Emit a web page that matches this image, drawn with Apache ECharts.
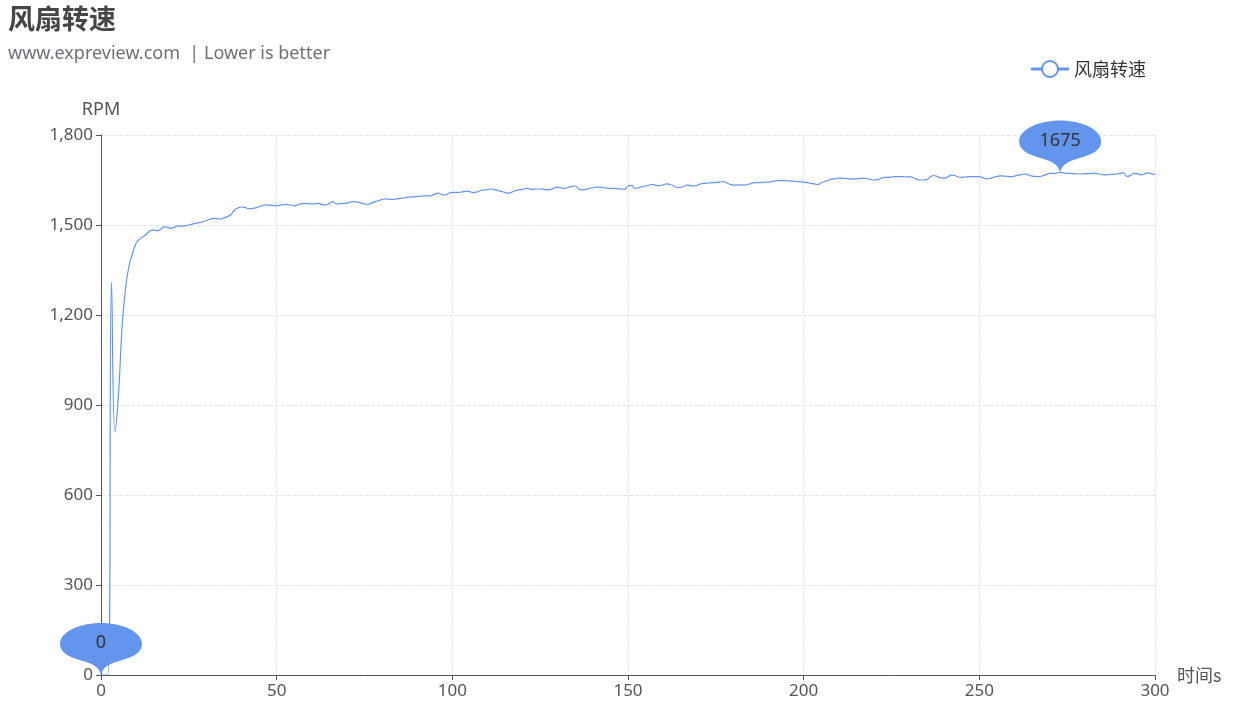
<!DOCTYPE html>
<html>
<head>
<meta charset="utf-8">
<script src="https://cdn.jsdelivr.net/npm/echarts@6/dist/echarts.min.js"></script>
<style>
html,body{margin:0;padding:0;background:#fff;}
#chart{width:1255px;height:720px;}
</style>
</head>
<body>
<div id="chart"></div>
<script>
const titleText = '风扇转速';
const subtitleText = 'www.expreview.com  | Lower is better';
const seriesName = '风扇转速';
const yAxisName = 'RPM';
const xAxisName = '时间s';
const sampleStartSec = 0;
const sampleStepSec = 1;
// fan speed (RPM), one reading per second from 0 s to 300 s
const fanRpm = [
0,0,0,1310,810,940,1160,1290,1365,1405,
1440,1453,1461,1470,1481,1484,1481,1486,1494,1492,
1489,1493,1497,1496,1498,1500,1503,1506,1508,1511,
1515,1519,1522,1521,1520,1524,1528,1535,1550,1557,
1560,1559,1554,1555,1557,1561,1565,1567,1566,1565,
1564,1566,1568,1569,1566,1564,1567,1571,1572,1571,
1570,1571,1572,1568,1567,1572,1578,1570,1571,1572,
1573,1576,1578,1576,1574,1570,1569,1573,1578,1581,
1585,1587,1586,1585,1587,1589,1590,1592,1594,1594,
1595,1596,1597,1597,1598,1603,1606,1601,1600,1606,
1609,1609,1609,1611,1613,1611,1608,1610,1615,1617,
1618,1620,1618,1615,1612,1608,1606,1610,1615,1617,
1619,1622,1620,1619,1620,1620,1619,1617,1619,1623,
1626,1624,1622,1625,1629,1630,1620,1617,1619,1622,
1624,1626,1626,1625,1623,1622,1622,1621,1620,1619,
1630,1632,1622,1624,1628,1630,1633,1635,1632,1631,
1634,1637,1635,1630,1625,1625,1630,1633,1631,1630,
1634,1638,1639,1640,1641,1642,1643,1645,1641,1636,
1633,1633,1634,1633,1635,1638,1641,1641,1642,1643,
1643,1645,1647,1648,1648,1648,1647,1646,1645,1644,
1643,1641,1639,1637,1635,1641,1645,1649,1653,1654,
1656,1656,1655,1654,1653,1654,1655,1656,1655,1652,
1650,1651,1655,1659,1659,1660,1661,1661,1661,1660,
1661,1659,1653,1650,1650,1651,1660,1665,1662,1657,
1656,1660,1666,1665,1660,1659,1660,1661,1661,1661,
1661,1658,1654,1655,1659,1662,1664,1663,1662,1661,
1663,1666,1668,1670,1667,1663,1662,1661,1664,1668,
1672,1672,1673,1675,1674,1672,1672,1671,1670,1670,
1671,1671,1672,1672,1670,1668,1667,1668,1669,1670,
1672,1674,1662,1665,1672,1671,1667,1670,1674,1671,
1668
];
const xTicks = [0, 300, 50];   // min, max, interval
const yTicks = [0, 1800, 300]; // min, max, interval

const seriesData = fanRpm.map((v, i) => [sampleStartSec + i * sampleStepSec, v]);

const mainColor = '#6495ED';
const pinPath = 'path://M50,100 C48,86 42,79 28,73 C8,65 0,55 0,40 C0,17 24,0 50,0 C76,0 100,17 100,40 C100,55 92,65 72,73 C58,79 52,86 50,100 Z';
const latin = 'Noto Sans';
const chart = echarts.init(document.getElementById('chart'), null, {renderer: 'canvas'});
chart.setOption({
  animation: false,
  color: [mainColor],
  title: {
    text: titleText,
    subtext: subtitleText,
    left: 3,
    top: 0,
    itemGap: 13,
    textStyle: {fontSize: 27, fontWeight: 'bold', color: '#464646', fontFamily: 'Noto Sans CJK SC'},
    subtextStyle: {fontSize: 18, color: '#6e7079', fontFamily: latin}
  },
  legend: {
    data: [seriesName],
    right: 104,
    top: 55,
    itemWidth: 38,
    itemHeight: 20,
    itemGap: 10,
    textStyle: {fontSize: 18, color: '#333', fontFamily: 'Noto Sans CJK SC'},
    lineStyle: {width: 3},
    itemStyle: {borderWidth: 3}
  },
  grid: {left: 101, right: 100, top: 135, bottom: 45, containLabel: false},
  xAxis: {
    type: 'value',
    min: xTicks[0], max: xTicks[1], interval: xTicks[2],
    name: xAxisName,
    nameGap: 22,
    nameTextStyle: {fontSize: 18, color: '#555', fontFamily: 'Noto Sans CJK SC'},
    axisLine: {show: true, lineStyle: {color: '#555'}},
    axisTick: {show: true, lineStyle: {color: '#555'}},
    axisLabel: {fontSize: 17, color: '#555', margin: 8, fontFamily: latin},
    splitLine: {show: true, lineStyle: {type: 'dashed', color: '#e0e6f1'}}
  },
  yAxis: {
    type: 'value',
    min: yTicks[0], max: yTicks[1], interval: yTicks[2],
    name: yAxisName,
    nameGap: 16,
    nameTextStyle: {fontSize: 18, color: '#555', fontFamily: latin},
    axisLine: {show: true, lineStyle: {color: '#555'}},
    axisTick: {show: true, lineStyle: {color: '#555'}},
    axisLabel: {fontSize: 17, color: '#555', margin: 8, fontFamily: latin},
    splitLine: {show: true, lineStyle: {type: 'dashed', color: '#e0e6f1'}}
  },
  series: [{
    name: seriesName,
    type: 'line',
    data: seriesData,
    smooth: true,
    symbol: 'emptyCircle',
    showSymbol: false,
    lineStyle: {width: 1.2, color: mainColor},
    itemStyle: {color: mainColor},
    markPoint: {
      symbol: pinPath,
      symbolKeepAspect: false,
      symbolSize: [82, 52],
      symbolOffset: [0, -26],
      itemStyle: {color: mainColor},
      label: {fontSize: 18, color: '#333', offset: [0, -6], fontFamily: latin},
      data: [{type: 'max', name: 'max'}, {type: 'min', name: 'min'}]
    }
  }]
});
</script>
</body>
</html>
